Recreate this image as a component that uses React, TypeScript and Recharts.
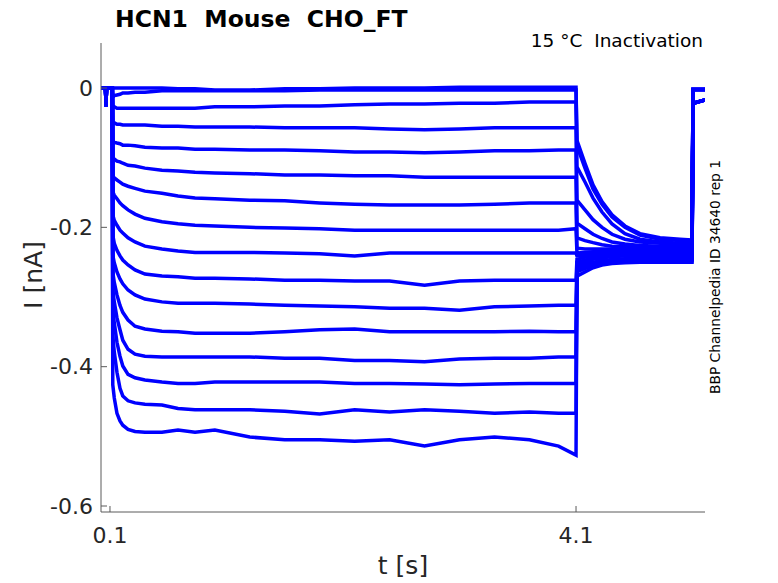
import React from "react";
import { LineChart, Line, XAxis, YAxis } from "recharts";

// holding level before the voltage step (shared by all sweeps)
const holdTimes = [0.023, 0.062, 0.066, 0.07, 0.12];
const holdCurrent = [0, 0, -0.026, 0, 0];

// prepulse (t = 0.1 .. 4.1 s)
const stepTimes = [
  0.124, 0.137, 0.16, 0.186, 0.21, 0.255, 0.315, 0.4, 0.546, 0.684, 0.83, 1.0,
  1.3, 1.6, 1.9, 2.2, 2.5, 2.8, 3.1, 3.4, 3.7, 3.95, 4.1,
];
// tail pulse (t = 4.1 .. 5.1 s)
const tailTimes = [4.108, 4.177, 4.246, 4.323, 4.409, 4.52, 4.649, 4.821, 4.993, 5.096];
// back to holding
const postTimes = [5.104, 5.207];

// one row per sweep, current in nA
const stepCurrents = [
  [0, 0, 0, 0, 0, 0, 0, 0, 0, -0.001, -0.001, -0.003, -0.003, -0.001, -0.001, 0, 0, 0, 0.001, 0.001, 0.001, 0.001, 0.001],
  [-0.013, -0.011, -0.01, -0.009, -0.007, -0.007, -0.006, -0.006, -0.004, -0.004, -0.004, -0.004, -0.004, -0.004, -0.003, -0.003, -0.003, -0.003, -0.003, -0.003, -0.003, -0.003, -0.003],
  [-0.027, -0.027, -0.029, -0.029, -0.029, -0.029, -0.029, -0.029, -0.029, -0.029, -0.029, -0.027, -0.027, -0.026, -0.026, -0.024, -0.023, -0.023, -0.022, -0.022, -0.02, -0.02, -0.02],
  [-0.05, -0.05, -0.052, -0.052, -0.053, -0.053, -0.053, -0.053, -0.055, -0.055, -0.056, -0.056, -0.056, -0.057, -0.057, -0.057, -0.059, -0.06, -0.059, -0.057, -0.057, -0.057, -0.057],
  [-0.076, -0.078, -0.079, -0.08, -0.082, -0.082, -0.083, -0.085, -0.086, -0.086, -0.088, -0.088, -0.089, -0.089, -0.09, -0.092, -0.092, -0.093, -0.092, -0.09, -0.09, -0.089, -0.089],
  [-0.101, -0.102, -0.105, -0.106, -0.108, -0.111, -0.112, -0.115, -0.118, -0.119, -0.121, -0.122, -0.123, -0.125, -0.125, -0.126, -0.126, -0.128, -0.128, -0.128, -0.128, -0.128, -0.128],
  [-0.126, -0.129, -0.132, -0.135, -0.138, -0.141, -0.144, -0.148, -0.151, -0.155, -0.158, -0.159, -0.161, -0.162, -0.165, -0.167, -0.168, -0.168, -0.168, -0.167, -0.165, -0.165, -0.165],
  [-0.149, -0.154, -0.159, -0.165, -0.169, -0.175, -0.181, -0.187, -0.192, -0.195, -0.197, -0.198, -0.2, -0.201, -0.202, -0.204, -0.204, -0.204, -0.204, -0.204, -0.204, -0.204, -0.202],
  [-0.182, -0.19, -0.197, -0.204, -0.208, -0.215, -0.221, -0.227, -0.231, -0.234, -0.236, -0.236, -0.236, -0.237, -0.238, -0.241, -0.237, -0.237, -0.237, -0.237, -0.237, -0.237, -0.237],
  [-0.211, -0.223, -0.233, -0.241, -0.247, -0.254, -0.261, -0.267, -0.27, -0.271, -0.273, -0.273, -0.274, -0.276, -0.276, -0.277, -0.277, -0.283, -0.277, -0.276, -0.276, -0.276, -0.276],
  [-0.24, -0.251, -0.264, -0.274, -0.281, -0.29, -0.297, -0.303, -0.307, -0.309, -0.309, -0.309, -0.31, -0.312, -0.313, -0.314, -0.316, -0.316, -0.319, -0.314, -0.313, -0.312, -0.312],
  [-0.264, -0.279, -0.297, -0.312, -0.322, -0.333, -0.342, -0.346, -0.349, -0.35, -0.352, -0.352, -0.352, -0.35, -0.347, -0.346, -0.35, -0.35, -0.35, -0.35, -0.349, -0.35, -0.35],
  [-0.29, -0.307, -0.33, -0.347, -0.362, -0.375, -0.382, -0.385, -0.386, -0.386, -0.386, -0.386, -0.386, -0.388, -0.388, -0.391, -0.391, -0.393, -0.389, -0.388, -0.388, -0.386, -0.386],
  [-0.319, -0.337, -0.365, -0.385, -0.399, -0.411, -0.416, -0.419, -0.422, -0.424, -0.424, -0.422, -0.422, -0.422, -0.422, -0.424, -0.424, -0.425, -0.426, -0.425, -0.424, -0.424, -0.424],
  [-0.355, -0.379, -0.408, -0.431, -0.442, -0.449, -0.452, -0.454, -0.455, -0.46, -0.462, -0.462, -0.462, -0.464, -0.468, -0.462, -0.465, -0.462, -0.464, -0.467, -0.465, -0.467, -0.467],
  [-0.426, -0.445, -0.467, -0.478, -0.484, -0.49, -0.493, -0.494, -0.494, -0.491, -0.494, -0.491, -0.501, -0.505, -0.505, -0.507, -0.505, -0.514, -0.505, -0.501, -0.505, -0.514, -0.527],
];

const tailCurrents = [
  [-0.075, -0.108, -0.139, -0.163, -0.182, -0.198, -0.209, -0.215, -0.217, -0.218],
  [-0.083, -0.115, -0.145, -0.167, -0.185, -0.2, -0.211, -0.217, -0.219, -0.22],
  [-0.113, -0.135, -0.158, -0.178, -0.195, -0.209, -0.217, -0.221, -0.223, -0.223],
  [-0.161, -0.175, -0.189, -0.2, -0.21, -0.217, -0.221, -0.223, -0.224, -0.224],
  [-0.194, -0.202, -0.21, -0.216, -0.221, -0.224, -0.226, -0.227, -0.227, -0.227],
  [-0.215, -0.219, -0.222, -0.225, -0.227, -0.228, -0.228, -0.228, -0.228, -0.228],
  [-0.23, -0.231, -0.231, -0.231, -0.231, -0.231, -0.231, -0.231, -0.231, -0.231],
  [-0.237, -0.236, -0.235, -0.234, -0.233, -0.233, -0.233, -0.233, -0.233, -0.233],
  [-0.241, -0.24, -0.238, -0.237, -0.236, -0.236, -0.236, -0.236, -0.236, -0.236],
  [-0.246, -0.243, -0.241, -0.239, -0.238, -0.237, -0.237, -0.237, -0.237, -0.237],
  [-0.25, -0.247, -0.244, -0.242, -0.241, -0.24, -0.24, -0.24, -0.24, -0.24],
  [-0.253, -0.25, -0.246, -0.244, -0.242, -0.241, -0.241, -0.241, -0.241, -0.241],
  [-0.256, -0.253, -0.25, -0.248, -0.246, -0.245, -0.244, -0.244, -0.244, -0.244],
  [-0.26, -0.256, -0.252, -0.249, -0.247, -0.246, -0.246, -0.246, -0.246, -0.246],
  [-0.264, -0.259, -0.255, -0.252, -0.25, -0.249, -0.248, -0.248, -0.248, -0.248],
  [-0.27, -0.264, -0.258, -0.254, -0.252, -0.251, -0.25, -0.25, -0.25, -0.25],
];

const postCurrents = [
  [-0.002, -0.002], [-0.002, -0.002], [-0.002, -0.002], [-0.002, -0.002],
  [-0.002, -0.002], [-0.002, -0.002], [-0.002, -0.002], [-0.002, -0.002],
  [-0.022, -0.017], [-0.022, -0.017], [-0.022, -0.017], [-0.022, -0.017],
  [-0.022, -0.017], [-0.022, -0.017], [-0.022, -0.017], [-0.022, -0.017],
];

const xTicks = [0.1, 4.1];
const yTicks = [-0.6, -0.4, -0.2, 0];

const times = [...holdTimes, ...stepTimes, ...tailTimes, ...postTimes];
const sweeps = stepCurrents.map((s, i) => [...holdCurrent, ...s, ...tailCurrents[i], ...postCurrents[i]]);
const data = times.map((t, j) => {
  const row: Record<string, number> = { t };
  sweeps.forEach((sw, i) => (row["c" + i] = sw[j]));
  return row;
});

const FONT = "DejaVu Sans, sans-serif";
const TXT = "#262626";

export default function App() {
  return (
    <div style={{ position: "absolute", left: 0, top: 0, width: 778, height: 583, background: "#fff" }}>
      <LineChart width={778} height={583} data={data} margin={{ top: 43, right: 73, left: 41, bottom: 41 }}>
        <XAxis
          dataKey="t"
          type="number"
          domain={[0.023, 5.207]}
          allowDataOverflow
          ticks={xTicks}
          height={30}
          stroke="#5a5a5a"
          tickSize={-6}
          tickMargin={21}
          tick={{ fontSize: 22, fill: TXT, fontFamily: FONT }}
        />
        <YAxis
          type="number"
          domain={[-0.6086, 0.0646]}
          allowDataOverflow
          ticks={yTicks}
          width={60}
          stroke="#5a5a5a"
          tickSize={-6}
          tickMargin={14}
          tick={{ fontSize: 22, fill: TXT, fontFamily: FONT }}
        />
        {sweeps.map((_, i) => (
          <Line
            key={i}
            dataKey={"c" + i}
            type="linear"
            stroke="#0000ff"
            strokeWidth={3.5}
            dot={false}
            activeDot={false}
            isAnimationActive={false}
          />
        ))}
      </LineChart>
      <svg width={778} height={583} style={{ position: "absolute", left: 0, top: 0, pointerEvents: "none" }}>
        <text x={115} y={27} fontSize={23.5} fontWeight="bold" fontFamily={FONT} fill="#000" style={{ whiteSpace: "pre" }}>
          {"HCN1  Mouse  CHO_FT"}
        </text>
        <text x={703} y={47} fontSize={18.5} textAnchor="end" fontFamily={FONT} fill="#000" style={{ whiteSpace: "pre" }}>
          {"15 °C  Inactivation"}
        </text>
        <text x={403} y={574} fontSize={25} textAnchor="middle" fontFamily={FONT} fill={TXT}>
          t [s]
        </text>
        <text transform="translate(42,275) rotate(-90)" fontSize={25} textAnchor="middle" fontFamily={FONT} fill={TXT}>
          I [nA]
        </text>
        <text transform="translate(720,277) rotate(-90)" fontSize={13.8} textAnchor="middle" fontFamily={FONT} fill="#000">
          BBP Channelpedia ID 34640 rep 1
        </text>
      </svg>
    </div>
  );
}
